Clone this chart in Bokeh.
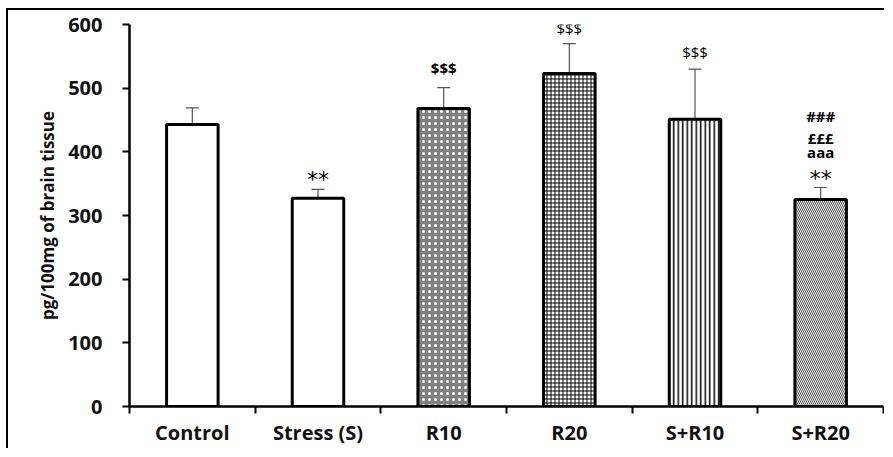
import numpy as np
from bokeh.plotting import figure
from bokeh.models import ColumnDataSource, Range1d, FixedTicker, Whisker, TeeHead
from bokeh.embed import file_html
from bokeh.resources import INLINE

# ---- data ----
categories = ["Control", "Stress (S)", "R10", "R20", "S+R10", "S+R20"]
means = [443, 327, 468, 523, 451, 325]
errors = [26, 14, 33, 47, 79, 19]
y_ticks = [0, 100, 200, 300, 400, 500, 600]
annotations = [[], ["**"], ["$$$"], ["$$$"], ["$$$"], ["**", "aaa", "£££", "###"]]

# ---- styles ----
fills = ["white", "white", "#808080", "white", "white", "white"]
hatches = [" ", "checker", "dot", "cross", "vertical_line", "left_diagonal_line"]
hatch_colors = ["black", "black", "white", "black", "black", "#505050"]
hatch_scales = [10, 8, 6, 4, 4.5, 4]
hatch_weights = [1, 1, 2, 1, 1.5, 1.0]

n = len(categories)
xs = np.arange(n) + 0.5
tops = [m + e for m, e in zip(means, errors)]

src = ColumnDataSource(dict(x=xs, top=means, upper=tops, fill=fills, hatch=hatches,
                            hcol=hatch_colors, hscale=hatch_scales, hweight=hatch_weights))

FONT = "Open Sans"

p = figure(width=884, height=448, output_backend="svg", toolbar_location=None,
           x_range=Range1d(0, n), y_range=Range1d(0, 600),
           min_border_left=129, min_border_right=1, min_border_top=24, min_border_bottom=40)
p.outline_line_color = None
p.xgrid.visible = False
p.ygrid.visible = False
p.background_fill_color = "white"
p.border_fill_color = None

# outer frame of the figure (top and left edges visible), drawn behind the canvas
p.styles = {
    "background": ("linear-gradient(#000, #000) 6px 8px / 2px 100% no-repeat, "
                   "linear-gradient(#000, #000) 6px 8px / 100% 2px no-repeat, white"),
}

p.vbar(x="x", top="top", bottom=0, width=0.41, source=src,
       fill_color="fill", line_color="black", line_width=3,
       hatch_pattern="hatch", hatch_color="hcol", hatch_scale="hscale",
       hatch_weight="hweight")

wh = Whisker(base="x", lower="top", upper="upper", source=src,
             line_color="#555555", line_width=1.2,
             upper_head=TeeHead(size=13, line_color="#555555", line_width=1.2),
             lower_head=None)
p.add_layout(wh)

# annotations
ax, ay, at, aoff, asz, ast, afont = [], [], [], [], [], [], []
offsets_px = {1: [-10], 2: [-20], 3: [-16], 4: [-17], 5: [-9, -35, -49, -71]}
sizes = {1: ["22px"], 2: ["15px"], 3: ["15px"], 4: ["15px"],
         5: ["22px", "15px", "15px", "15px"]}
styles = {1: ["normal"], 2: ["bold"], 3: ["normal"], 4: ["normal"],
          5: ["normal", "bold", "bold", "bold"]}
for i, labels in enumerate(annotations):
    for j, t in enumerate(labels):
        ax.append(xs[i])
        ay.append(tops[i])
        at.append(t)
        aoff.append(offsets_px[i][j])
        asz.append(sizes[i][j])
        ast.append(styles[i][j])
        afont.append("DejaVu Sans" if t == "**" else FONT)
asrc = ColumnDataSource(dict(x=ax, y=ay, text=at, off=aoff, size=asz, style=ast,
                             font=afont))
p.text(x="x", y="y", text="text", y_offset="off", source=asrc,
       text_align="center", text_baseline="middle",
       text_font="font", text_font_size="size", text_font_style="style",
       text_color="black")

# axes
xa = p.xaxis[0]
xa.ticker = FixedTicker(ticks=list(xs), minor_ticks=list(range(n + 1)))
xa.major_label_overrides = {float(x): c for x, c in zip(xs, categories)}
xa.major_tick_line_color = None
xa.major_tick_out = 7
xa.major_tick_in = 0
xa.minor_tick_line_color = "black"
xa.minor_tick_line_width = 2
xa.minor_tick_out = 7
xa.minor_tick_in = 0
xa.axis_line_width = 2.5
xa.axis_line_color = "black"
xa.major_label_text_font = FONT
xa.major_label_text_font_style = "bold"
xa.major_label_text_font_size = "20px"
xa.major_label_text_color = "#111111"
xa.major_label_standoff = 5

ya = p.yaxis[0]
ya.ticker = FixedTicker(ticks=y_ticks)
ya.minor_tick_line_color = None
ya.major_tick_out = 7
ya.major_tick_in = 0
ya.major_tick_line_width = 2
ya.major_tick_line_color = "black"
ya.axis_line_width = 2.5
ya.axis_line_color = "black"
ya.major_label_text_font = FONT
ya.major_label_text_font_style = "bold"
ya.major_label_text_font_size = "20px"
ya.major_label_text_color = "#111111"
ya.major_label_standoff = 20
ya.axis_label = "pg/100mg of brain tissue"
ya.axis_label_text_font = FONT
ya.axis_label_text_font_style = "bold"
ya.axis_label_text_font_size = "17px"
ya.axis_label_text_color = "#111111"
ya.axis_label_standoff = 6

open("out.html", "w").write(file_html(p, INLINE))
